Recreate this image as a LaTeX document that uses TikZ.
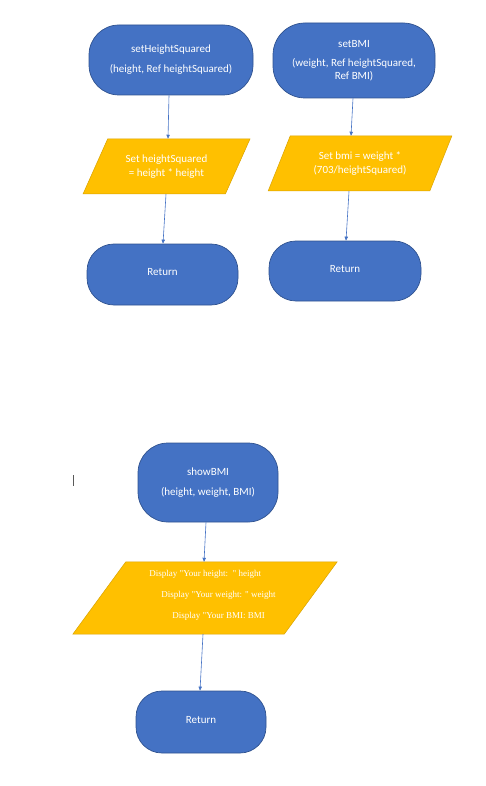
\documentclass[tikz,border=0pt]{standalone}
\usepackage{fontspec}
\setmainfont{Carlito}
\newfontfamily\disfont{Liberation Serif}
\usetikzlibrary{shapes.geometric,arrows.meta}
\definecolor{tblue}{HTML}{4472C4}
\definecolor{tblueb}{HTML}{2F528F}
\definecolor{tyel}{HTML}{FFC000}
\definecolor{tyelb}{HTML}{D9A300}
\tikzset{
  term/.style={draw=tblueb, line width=0.7pt, fill=tblue, rounded corners=#1, text=white,
    align=center, font=\fontsize{11}{13}\selectfont, inner sep=0pt},
  io/.style={trapezium, draw=tyelb, line width=0.5pt, fill=tyel, text=white, align=center,
    trapezium stretches=true, inner sep=0pt, font=\fontsize{11}{14}\selectfont},
  iopath/.style={draw=tyelb, line width=0.5pt, fill=tyel},
  flow/.style={draw=tblue, line width=0.6pt, -{Triangle[length=4pt,width=3.4pt]}},
  ret/.style={text depth=5pt},
}
\begin{document}
\begin{tikzpicture}[x=1pt,y=-1pt]
\useasboundingbox (0,0) rectangle (486,786);
% terminals
\node[term=30pt, minimum width=164pt, minimum height=70pt] (t1) at (171,60)
  {setHeightSquared\\[7pt](height, Ref heightSquared)};
\node[term=32pt, minimum width=162pt, minimum height=75pt] (t2) at (354,60.5)
  {setBMI\\[6pt](weight, Ref heightSquared,\\Ref BMI)};
% parallelograms
\node[io, trapezium left angle=54, trapezium right angle=126,
  minimum width=167pt, minimum height=55pt] (p1) at (166.5,166.5)
  {Set heightSquared\\= height * height};
\node[io, trapezium left angle=58.3, trapezium right angle=121.7,
  minimum width=184pt, minimum height=55pt] (p2) at (360,163.5)
  {Set bmi = weight *\\(703/heightSquared)};
% returns
\node[term=27pt, ret, minimum width=151pt, minimum height=61pt] (r1) at (162.5,274.5) {Return};
\node[term=27pt, ret, minimum width=152pt, minimum height=60pt] (r2) at (345,271) {Return};
% lower flow
\node[term=30pt, minimum width=140pt, minimum height=79pt] (s) at (208,482.5)
  {showBMI\\[7pt](height, weight, BMI)};
\node[inner sep=0pt, minimum width=211pt, minimum height=72pt] (p3) at (205,598) {};
\draw[iopath] ([xshift=26.5pt]p3.north west) -- ([xshift=26.5pt]p3.north east)
  -- ([xshift=-26.5pt]p3.south east) -- ([xshift=-26.5pt]p3.south west) -- cycle;
\node[text=white, align=left, inner sep=0pt, font=\disfont\fontsize{9}{21}\selectfont] (dtext) at (212.5,595.5)
  {Display "Your height:\ \ " height\\
   \hspace*{12pt}Display "Your weight: " weight\\
   \hspace*{23pt}Display "Your BMI: BMI};
\node[term=26pt, ret, minimum width=130pt, minimum height=62pt] (r3) at (201,722) {Return};
% connectors
\draw[flow] ([xshift=-2pt]t1.south) -- ([xshift=1.5pt]p1.north);
\draw[flow] ([xshift=-1pt]t2.south) -- ([xshift=-9pt]p2.north);
\draw[flow] ([xshift=-0.5pt]p1.south) -- ([xshift=0.5pt]r1.north);
\draw[flow] ([xshift=-11pt]p2.south) -- ([xshift=1pt]r2.north);
\draw[flow] ([xshift=-2pt]s.south) -- ([xshift=-1pt]p3.north);
\draw[flow] ([xshift=-2pt]p3.south) -- ([xshift=-1pt]r3.north);
% text cursor mark
\draw[gray!70!black, line width=0.6pt] (73,475) -- (73,486);
\end{tikzpicture}
\end{document}
